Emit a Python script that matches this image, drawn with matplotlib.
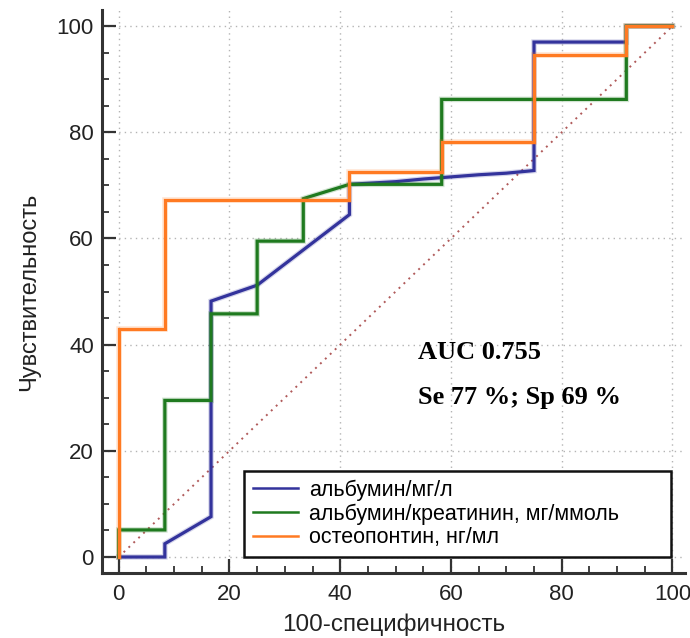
import matplotlib
matplotlib.use("Agg")
import matplotlib.pyplot as plt
from matplotlib.ticker import MultipleLocator
import matplotlib.patheffects as pe

plt.rcParams["font.family"] = ["Liberation Sans", "DejaVu Sans"]

# ROC points: 100-specificity (%) and sensitivity (%)
alb_x = [0, 8.33, 8.33, 16.67, 16.67, 25, 41.67, 41.67, 50, 55, 60, 65, 70, 75, 75, 91.67, 91.67, 100]
alb_y = [0, 0, 2.5, 7.6, 48.2, 51.2, 64.5, 70.2, 70.7, 71.2, 71.6, 72.0, 72.3, 72.8, 97.0, 97.0, 100, 100]

acr_x = [0, 0, 8.33, 8.33, 16.67, 16.67, 25, 25, 33.33, 33.33, 41.67, 58.33, 58.33, 91.67, 91.67, 100]
acr_y = [0, 5.1, 5.1, 29.5, 29.5, 45.8, 45.8, 59.5, 59.5, 67.5, 70.2, 70.2, 86.2, 86.2, 100, 100]

opn_x = [0, 0, 8.33, 8.33, 41.67, 41.67, 58.33, 58.33, 75, 75, 91.67, 91.67, 100]
opn_y = [0, 43.0, 43.0, 67.3, 67.3, 72.6, 72.6, 78.1, 78.1, 94.5, 94.5, 100, 100]

labels = ["альбумин/мг/л", "альбумин/креатинин, мг/ммоль", "остеопонтин, нг/мл"]
colors = ["#33339c", "#1f7a1f", "#ff7a22"]

fig = plt.figure(figsize=(6.9, 6.38), dpi=100)
ax = fig.add_axes([0.148, 0.102, 0.845, 0.882])

# reference diagonal
ax.plot([0, 100], [0, 100], color="#b05a5a", linestyle=(0, (1, 2.5)), linewidth=1.4, zorder=1)

glow = [pe.Stroke(linewidth=4.0, alpha=0.2), pe.Normal()]
for xs, ys, c, lab in zip([alb_x, acr_x, opn_x], [alb_y, acr_y, opn_y], colors, labels):
    ax.plot(xs, ys, color=c, linewidth=2.3, label=lab, zorder=3, path_effects=glow,
            solid_joinstyle="miter")

ax.set_xlim(-3, 102.3)
ax.set_ylim(-3, 103)

ax.xaxis.set_major_locator(MultipleLocator(20))
ax.yaxis.set_major_locator(MultipleLocator(20))
ax.xaxis.set_minor_locator(MultipleLocator(5))
ax.yaxis.set_minor_locator(MultipleLocator(5))

ax.grid(True, which="major", color="#b4b4b4", linestyle=(0, (1, 3)), linewidth=1)
ax.set_axisbelow(True)

for side in ["top", "right"]:
    ax.spines[side].set_visible(False)
for side in ["left", "bottom"]:
    ax.spines[side].set_linewidth(2.2)
    ax.spines[side].set_color("#333333")

ax.tick_params(which="major", direction="in", length=10, width=1.6, color="#333333",
               labelsize=16, labelcolor="#222222")
ax.tick_params(which="minor", direction="in", length=5, width=1.3, color="#333333")
ax.tick_params(axis="x", which="major", pad=8)
ax.tick_params(axis="y", which="major", pad=6)

ax.set_xlabel("100-специфичность", fontsize=17.5, color="#222222", labelpad=6)
ax.set_ylabel("Чувствительность", fontsize=17, color="#222222", labelpad=12)

ax.text(54, 38.5, "AUC 0.755", fontsize=19, fontweight="bold",
        family="Liberation Serif", va="center", ha="left")
ax.text(54, 30.1, "Se 77 %; Sp 69 %", fontsize=19, fontweight="bold",
        family="Liberation Serif", va="center", ha="left")

leg = ax.legend(loc="lower left", bbox_to_anchor=(0.2436, 0.0284, 0.7324, 0.165),
                mode="expand", borderaxespad=0, fontsize=15.5, fancybox=False,
                framealpha=1, edgecolor="#111111", handlelength=2.1,
                handletextpad=0.5, labelspacing=0.12, borderpad=0.4)
leg.get_frame().set_linewidth(1.8)
for h in leg.get_lines():
    h.set_linewidth(1.8)
    h.set_path_effects([])

fig.savefig("out.png", dpi=100)
